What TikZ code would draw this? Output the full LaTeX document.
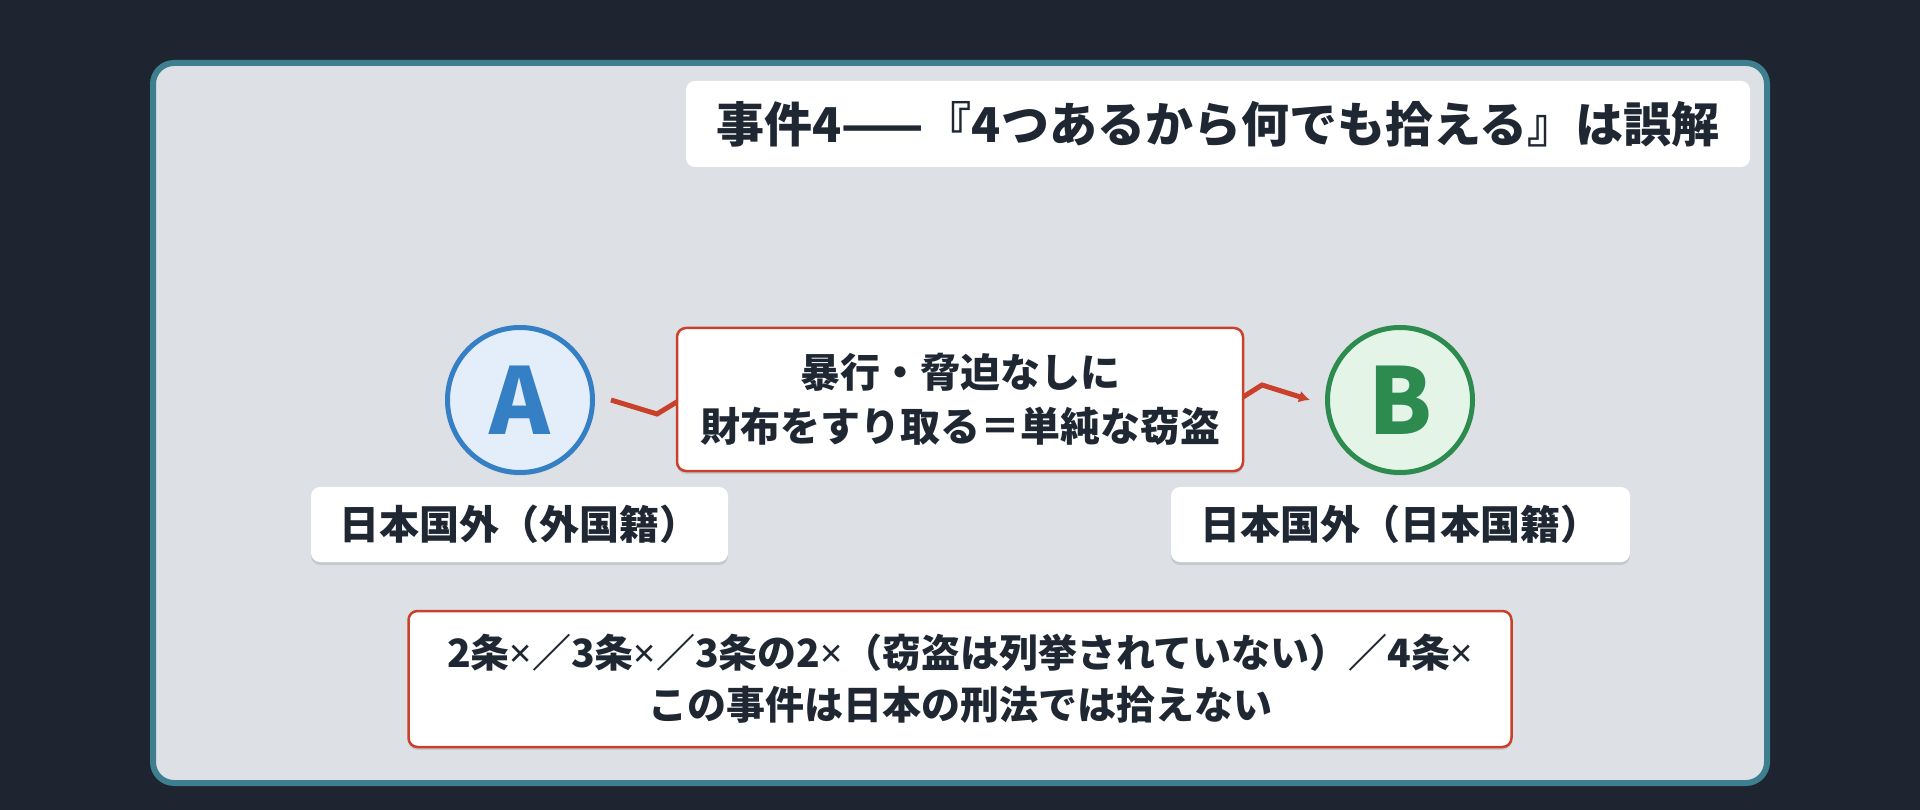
\documentclass[tikz,border=0pt]{standalone}
\usepackage{fontspec}
\setmainfont{Noto Sans CJK JP}
\newfontfamily\latinfont{Noto Sans}
\newcommand{\xmark}{{\latinfont\bfseries ×}}
\usetikzlibrary{arrows.meta,shadows}
\definecolor{bgdark}{HTML}{1E2430}
\definecolor{panel}{HTML}{DDE1E6}
\definecolor{teal}{HTML}{3D7F8E}
\definecolor{redc}{HTML}{C9402B}
\definecolor{bluec}{HTML}{3580C5}
\definecolor{bluef}{HTML}{E4EEFA}
\definecolor{greenc}{HTML}{2E8B50}
\definecolor{greenf}{HTML}{E4F5E8}
\definecolor{txt}{HTML}{1F2733}
\tikzset{
  softshadow/.style={drop shadow={shadow xshift=0pt,shadow yshift=-3pt,opacity=0.10,fill=black}},
  whitebox/.style={rectangle,rounded corners=9pt,fill=white,draw=none,inner sep=0pt,align=center,text=txt,font=\fontsize{40}{54}\selectfont\bfseries},
  redbox/.style={whitebox,draw=redc,line width=2.5pt,softshadow},
  person/.style={circle,line width=5pt,minimum size=145pt,inner sep=0pt,font=\fontsize{92}{92}\selectfont\bfseries,softshadow},
  conn/.style={draw=redc,line width=5pt,-{Latex[length=11pt,width=12pt]}}
}
\begin{document}
\begin{tikzpicture}[x=1pt,y=-1pt]
\useasboundingbox (0,0) rectangle (1920,810);
\fill[bgdark] (0,0) rectangle (1920,810);
\draw[teal,fill=panel,line width=6pt,rounded corners=21pt] (153,63) rectangle (1767,783);
% title
\node[whitebox,minimum width=1064pt,minimum height=86pt,font=\fontsize{48}{58}\selectfont\bfseries] (title) at (1218,124) {事件4——『4つあるから何でも拾える』は誤解};
% persons
\node[person,draw=bluec,fill=bluef,text=bluec] (A) at (520,400) {A};
\node[person,draw=greenc,fill=greenf,text=greenc] (B) at (1400,400) {B};
% connector (zigzag, middle part hidden behind the box)
\coordinate (c1) at (657,414);
\coordinate (c1b) at (690,394);
\coordinate (c2a) at (1232,404);
\coordinate (c2) at (1262,385);
\draw[conn] ([xshift=16pt]A.east) -- (c1) -- (c1b) -- (c2a) -- (c2) -- ([xshift=-15pt]B.west);
% middle box
\node[redbox,minimum width=566pt,minimum height=143pt] (mid) at (960,399.5) {暴行・脅迫なしに\\財布をすり取る＝単純な窃盗};
% labels
\node[whitebox,softshadow,minimum width=417pt,minimum height=75pt] (la) at (519.5,524.5) {日本国外（外国籍）};
\node[whitebox,softshadow,minimum width=459pt,minimum height=75pt] (lb) at (1400.5,524.5) {日本国外（日本国籍）};
% bottom box
\node[redbox,minimum width=1103pt,minimum height=136pt,font=\fontsize{39}{52}\selectfont\bfseries] (bot) at (960,679) {2条\xmark／3条\xmark／3条の2\xmark（窃盗は列挙されていない）／4条\xmark\\この事件は日本の刑法では拾えない};
\end{tikzpicture}
\end{document}
